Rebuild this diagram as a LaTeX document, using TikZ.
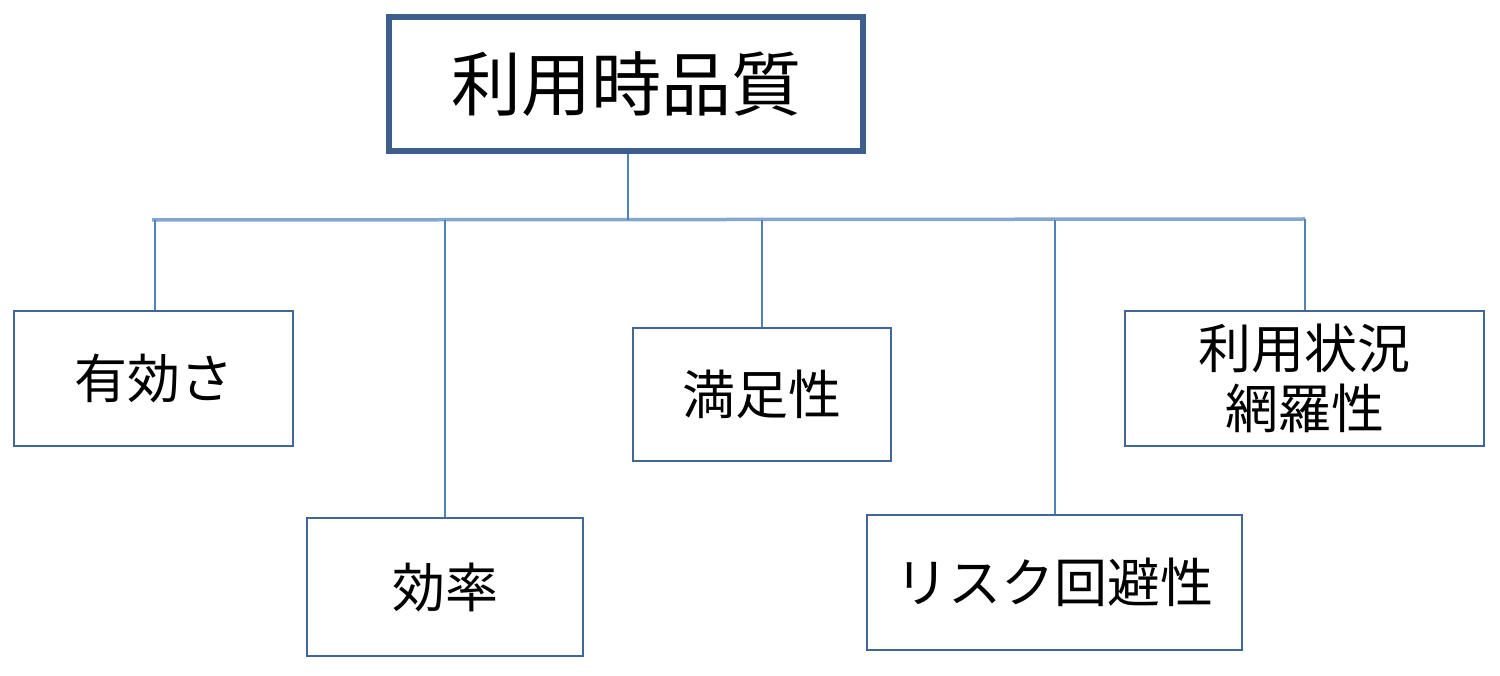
\documentclass[tikz,border=0pt]{standalone}
\usepackage{fontspec}
\newfontfamily\cjk{Noto Sans CJK JP}
\definecolor{topborder}{HTML}{3B5E8C}
\definecolor{boxborder}{HTML}{41669A}
\definecolor{conn}{HTML}{4F81BD}
\definecolor{bus}{HTML}{86A6D2}
\begin{document}
\begin{tikzpicture}[x=1pt,y=-1pt,
  topbox/.style={draw=topborder,line width=6pt,minimum width=474pt,minimum height=134pt,inner sep=0pt,font=\cjk\fontsize{70}{80}\selectfont},
  leaf/.style={draw=boxborder,line width=2pt,inner sep=0pt,align=center,font=\cjk\fontsize{53}{60}\selectfont},
  conn/.style={draw=conn,line width=2.2pt},
  busline/.style={draw=bus,line width=3.5pt}]
\useasboundingbox (0,0) rectangle (1500,676);
\node[topbox] (top) at (626,84) {利用時品質};
\node[leaf,minimum width=279pt,minimum height=135pt] (a) at (153.5,378.5) {有効さ};
\node[leaf,minimum width=276pt,minimum height=138pt] (b) at (445,587) {効率};
\node[leaf,minimum width=258pt,minimum height=133pt] (c) at (762,394.5) {満足性};
\node[leaf,minimum width=375pt,minimum height=135pt] (d) at (1054.5,582.5) {リスク回避性};
\node[leaf,minimum width=359pt,minimum height=135pt] (e) at (1304.5,378.5) {利用状況\\網羅性};
\coordinate (busL) at (152,220);
\coordinate (busR) at (1305,219);
\draw[busline] (busL) -- (busR);
\draw[conn] (top.south -| 628,0) -- (628,220);
\draw[conn] (155,220) -- (a.north -| 155,0);
\draw[conn] (445,220) -- (b.north -| 445,0);
\draw[conn] (762,220) -- (c.north -| 762,0);
\draw[conn] (1055,220) -- (d.north -| 1055,0);
\draw[conn] (1305,219) -- (e.north -| 1305,0);
\end{tikzpicture}
\end{document}
